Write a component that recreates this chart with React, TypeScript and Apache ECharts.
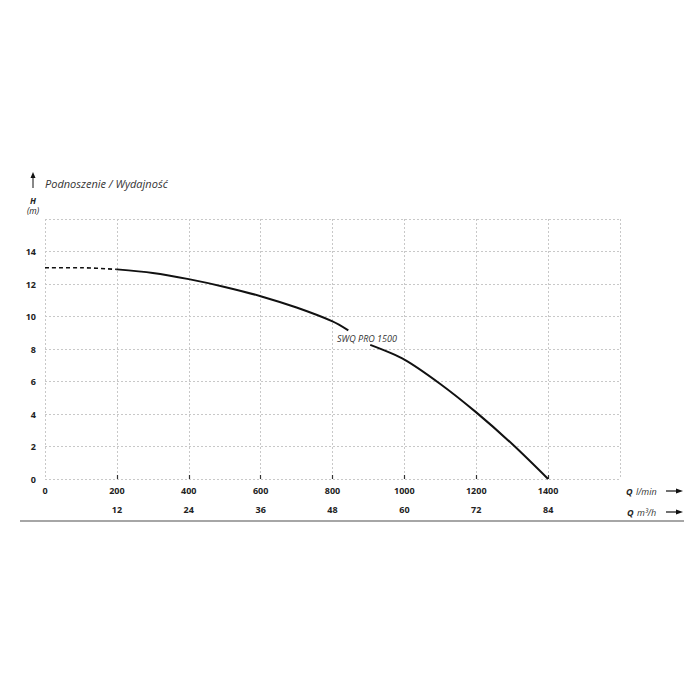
import React, { useEffect, useRef } from "react";
import * as echarts from "echarts";

// l/min axis
const qTicksMax = 1600;
const qInterval = 200;
// m3/h axis
const m3Min = 12;
const m3Max = 84;
const m3Interval = 12;
// head axis
const hMax = 16;
const hInterval = 2;

// pump curve (Q l/min, H m)
const dashedQ = [0, 100, 200];
const dashedH = [13.0, 13.0, 12.9];
const solidQ1 = [200, 300, 400, 500, 600, 700, 800, 844];
const solidH1 = [12.9, 12.68, 12.3, 11.82, 11.25, 10.55, 9.7, 9.15];
const solidQ2 = [905, 1000, 1100, 1200, 1300, 1400];
const solidH2 = [8.25, 7.35, 5.85, 4.1, 2.15, 0];

const curveName = "SWQ PRO 1500";
const titleText = "Podnoszenie / Wydajność";

const zip = (a: number[], b: number[]) => a.map((v, i) => [v, b[i]]);

export default function App() {
  const ref = useRef<HTMLDivElement>(null);
  useEffect(() => {
    if (!ref.current) return;
    const chart = echarts.init(ref.current, null, { renderer: "svg" });
    const font = "'Open Sans', 'Noto Sans', sans-serif";
    const gridLeft = 45;
    const gridRight = 620;
    const pxPerQ = (gridRight - gridLeft) / qTicksMax;
    const g2Left = gridLeft + (m3Min / 0.06) * pxPerQ;
    const g2Right = gridLeft + (m3Max / 0.06) * pxPerQ;
    const splitStyle = { color: "#c8c8c8", type: [2, 2] as any, width: 1 };
    const lineColor = "#111";
    const arrow = (y: number) => [
      { type: "line", shape: { x1: 666, y1: y, x2: 678, y2: y }, style: { stroke: "#111", lineWidth: 1.2 } },
      { type: "polygon", shape: { points: [[676, y - 2.5], [683, y], [676, y + 2.5]] }, style: { fill: "#111" } },
    ];
    chart.setOption({
      animation: false,
      backgroundColor: "#fff",
      grid: [
        { left: gridLeft, right: 700 - gridRight, top: 219, bottom: 221 },
        { left: g2Left, right: 700 - g2Right, top: 219, bottom: 221 },
      ],
      xAxis: [
        {
          type: "value",
          gridIndex: 0,
          min: 0,
          max: qTicksMax,
          interval: qInterval,
          axisLine: { show: false },
          axisTick: { show: false },
          splitLine: { show: true, lineStyle: splitStyle },
          axisLabel: {
            margin: 7,
            fontSize: 9,
            fontWeight: "bold",
            color: "#222",
            fontFamily: font,
            formatter: (v: number) => (v >= qTicksMax ? "" : String(v)),
          },
        },
        {
          type: "value",
          gridIndex: 1,
          min: m3Min,
          max: m3Max,
          interval: m3Interval,
          offset: 42,
          axisLine: { show: false },
          axisTick: { show: true, inside: true, length: 4, lineStyle: { color: "#333", width: 1.2 } },
          splitLine: { show: false },
          axisLabel: {
            inside: true,
            margin: 7,
            fontSize: 9,
            fontWeight: "bold",
            color: "#222",
            fontFamily: font,
          },
        },
      ],
      yAxis: [
        {
          type: "value",
          gridIndex: 0,
          min: 0,
          max: hMax,
          interval: hInterval,
          axisLine: { show: false },
          axisTick: { show: false },
          splitLine: { show: true, lineStyle: splitStyle },
          axisLabel: {
            margin: 9,
            fontSize: 9,
            fontWeight: "bold",
            color: "#222",
            fontFamily: font,
            formatter: (v: number) => (v >= hMax ? "" : String(v)),
          },
        },
        { type: "value", gridIndex: 1, min: 0, max: hMax, show: false },
      ],
      series: [
        {
          type: "line",
          data: zip(dashedQ, dashedH),
          smooth: 0.3,
          showSymbol: false,
          lineStyle: { color: lineColor, width: 1.6, type: [4, 3] as any },
        },
        {
          type: "line",
          data: zip(solidQ1, solidH1),
          smooth: 0.3,
          showSymbol: false,
          lineStyle: { color: lineColor, width: 2 },
        },
        {
          type: "line",
          data: zip(solidQ2, solidH2),
          smooth: 0.3,
          showSymbol: false,
          lineStyle: { color: lineColor, width: 2 },
        },
      ],
      graphic: [
        { type: "line", shape: { x1: 33, y1: 188, x2: 33, y2: 176 }, style: { stroke: "#111", lineWidth: 1 } },
        { type: "polygon", shape: { points: [[30.5, 178], [33, 172], [35.5, 178]] }, style: { fill: "#111" } },
        {
          type: "text",
          x: 45,
          y: 183,
          style: { text: titleText, fontSize: 11, fontStyle: "italic", fill: "#333", fontFamily: font, verticalAlign: "middle" },
        },
        {
          type: "text",
          x: 33,
          y: 200,
          style: { text: "H", fontSize: 8.5, fontWeight: "bold", fontStyle: "italic", fill: "#222", fontFamily: font, align: "center", verticalAlign: "middle" },
        },
        {
          type: "text",
          x: 33,
          y: 210,
          style: { text: "(m)", fontSize: 8.5, fontStyle: "italic", fill: "#222", fontFamily: font, align: "center", verticalAlign: "middle" },
        },
        {
          type: "text",
          x: 337,
          y: 338,
          style: { text: curveName, fontSize: 9, fontStyle: "italic", fill: "#333", fontFamily: font, verticalAlign: "middle" },
        },
        {
          type: "text",
          x: 626,
          y: 491,
          style: {
            text: "{b|Q} {i|l/min}",
            verticalAlign: "middle",
            rich: {
              b: { fontSize: 9, fontWeight: "bold", fontStyle: "italic", fill: "#222", fontFamily: font },
              i: { fontSize: 9, fontStyle: "italic", fill: "#333", fontFamily: font },
            },
          },
        },
        {
          type: "text",
          x: 627,
          y: 512,
          style: {
            text: "{b|Q} {i|m³/h}",
            verticalAlign: "middle",
            rich: {
              b: { fontSize: 9, fontWeight: "bold", fontStyle: "italic", fill: "#222", fontFamily: font },
              i: { fontSize: 9, fontStyle: "italic", fill: "#333", fontFamily: font },
            },
          },
        },
        ...arrow(491),
        ...arrow(512),
        { type: "line", shape: { x1: 20, y1: 521, x2: 684, y2: 521 }, style: { stroke: "#888", lineWidth: 1.5 } },
      ],
    });
    return () => chart.dispose();
  }, []);
  return <div ref={ref} style={{ position: "fixed", left: 0, top: 0, width: 700, height: 700, background: "#fff" }} />;
}
